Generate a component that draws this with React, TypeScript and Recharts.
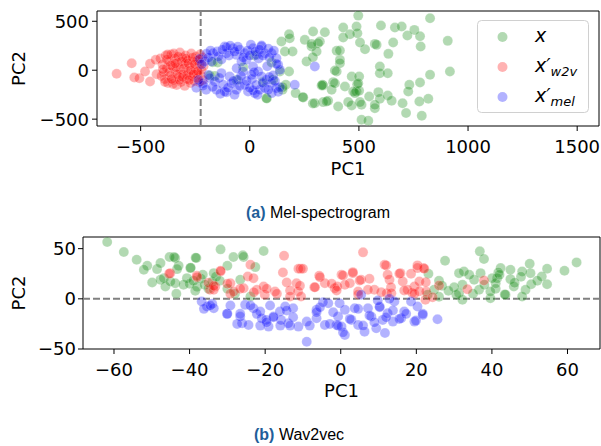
import { ScatterChart, Scatter, XAxis, YAxis, ReferenceLine, ReferenceArea, Label } from 'recharts';

// (a) Mel-spectrogram: PC1 / PC2 projections
const melX: number[][] = [
  [497, 558], [826, 531], [344, 388], [428, 436], [489, 446], [493, 377], [459, 367], [428, 334], [601, 456],
  [665, 436], [696, 446], [722, 354], [754, 412], [780, 347], [783, 242], [907, 300], [657, 283], [635, 167],
  [573, 269], [581, 259], [528, 214], [505, 283], [321, 293], [398, 198], [413, 106], [413, 71], [398, -13],
  [596, 38], [596, -31], [632, -31], [826, -47], [917, -13], [336, -156], [382, -122], [375, -200], [436, -166],
  [467, -64], [501, -64], [492, -143], [489, -217], [474, -217], [547, -268], [589, -224], [596, -292],
  [632, -258], [650, -312], [700, -337], [731, -149], [726, -217], [780, -125], [818, -292], [777, -319],
  [716, -438], [788, -465], [512, -506], [543, -516], [573, -388], [573, -353], [512, -353], [467, -360],
  [451, -326], [359, -312], [336, -326], [405, -370], [501, -210], [180, 367], [183, 326], [145, 293],
  [161, 191], [196, 191], [290, 395], [252, 310], [283, 242], [313, 275], [306, 191], [260, 89], [138, -13],
  [180, -13], [107, -98], [165, -149], [150, -200], [210, -234], [245, -278], [76, -285], [298, -337],
  [333, -149], [352, -319], [-170, 82], [-160, -60], [78, -289], [151, -173], [283, 269], [289, 133],
  [243, -275], [289, -340], [329, -156], [413, 201], [390, -3], [390, -133], [505, -326], [482, -234],
  [497, -133], [-147, 79], [-183, -54], [-60, -100], [20, 150], [60, -120], [100, 80], [-30, 30],
];
const melW2v: number[][] = [
  [-610, -37], [-541, 71], [-529, -74], [-506, -82], [-480, -13], [-457, 65], [-457, -115], [-431, 106],
  [-427, -41], [-410, 120], [-400, 60], [-395, -20], [-390, -90], [-385, 150], [-380, 20], [-375, -130],
  [-370, 90], [-365, -60], [-360, 160], [-355, 40], [-350, -100], [-345, 120], [-340, -10], [-335, -150],
  [-330, 80], [-325, -70], [-320, 180], [-318, 10], [-315, -120], [-310, 130], [-305, -40], [-300, 60],
  [-298, -160], [-295, 150], [-290, -90], [-285, 100], [-280, -20], [-275, 40], [-272, -130], [-268, 170],
  [-265, -60], [-260, 90], [-255, -110], [-250, 20], [-248, 140], [-245, -30], [-240, -80], [-235, 110],
  [-230, 60], [-225, -50], [-222, 0], [-218, 130], [-215, -100], [-212, 40], [-380, 110], [-370, -20],
  [-362, 50], [-352, -140], [-348, 170], [-338, 30], [-332, -40], [-328, 140], [-322, -100], [-312, 90],
  [-308, -70], [-302, 20], [-292, 120], [-288, -50], [-282, 70], [-278, -100], [-270, 0], [-262, 130],
  [-258, -40], [-252, 60], [-242, 100], [-238, -10], [-232, -120], [-228, 160], [-405, -60], [-398, 10],
  [-388, -120], [-376, 160], [-358, -90], [-342, 70],
];
const melMel: number[][] = [
  [-206, 89], [-168, 174], [-145, 140], [-115, 242], [-107, 174], [-77, 225], [-61, 157], [-46, 208],
  [-23, 174], [-15, 106], [-38, 89], [15, 225], [31, 157], [54, 242], [69, 174], [100, 174], [122, 122],
  [130, 55], [138, 4], [15, 38], [38, -13], [54, -64], [76, -98], [100, -133], [8, -47], [-214, -133],
  [-183, -81], [-160, -115], [-153, -200], [-122, -149], [-115, -217], [-92, -64], [-84, -133], [-61, -200],
  [-54, -98], [-31, -13], [-23, -149], [-8, -217], [23, -234], [46, -200], [69, -183], [100, -234],
  [122, -183], [206, -149], [298, 38], [-245, -180], [-229, 116], [-199, 167], [-107, 235], [54, 252],
  [122, 65], [107, -54], [138, -173], [15, -207], [-107, -224], [-214, -156], [-190, 130], [-180, 200],
  [-150, 190], [-130, 110], [-125, 210], [-95, 150], [-90, 250], [-70, 190], [-55, 240], [-30, 130],
  [-10, 200], [0, 150], [5, 260], [25, 190], [40, 120], [45, 210], [60, 150], [85, 220], [90, 130],
  [110, 200], [-220, 60], [-175, 90], [-235, -100], [-200, -200], [-190, -50], [-170, -170], [-140, -80],
  [-135, -240], [-100, -180], [-75, -110], [-70, -250], [-45, -160], [-40, -60], [-15, -110], [0, -180],
  [10, -90], [30, -150], [35, -250], [60, -130], [85, -200], [90, -70], [115, -110], [130, -220],
  [-130, -30], [-60, 20], [20, -20], [80, 40],
];

// (b) Wav2vec
const w2vX: number[][] = [
  [-61.8, 56.6], [-57.4, 46.6], [-54, 39], [-51.2, 33], [-52.1, 29], [-48.6, 29.6], [-47.7, 35.6], [-45.3, 41.6],
  [-43.8, 40.6], [-42.9, 33], [-43.3, 29.6], [-38.2, 40.6], [-39.8, 30.6], [-49.9, 16.3], [-47.7, 19],
  [-46.4, 12.3], [-46.8, 20.6], [-45.1, 17.3], [-43.8, 15.6], [-43.5, 5], [-41.6, 14], [-40.7, 20.6], [-40, 15],
  [-39, 18], [-38, 12], [-37, 20], [-36, 14], [-35, 10], [-34, 17], [-33, 22], [-38.5, 8], [-36.5, 24],
  [-31.8, 49.3], [-20.4, 47.6], [-28.4, 41.6], [-30, 33], [-25.7, 41.6], [-22.6, 31.6], [-38.4, 41], [-39.7, 31],
  [-44.1, 41.6], [-25.9, 43.3], [-33.6, 25.6], [-32, 18], [-26.6, 19], [-23.9, 2.3], [-30, 10], [-28, 5],
  [36.8, 47.3], [37.9, 39.6], [62.4, 36.3], [59.2, 28], [54.6, 30], [53.2, 22.3], [54.6, 14.6], [50, 35],
  [50.2, 25.6], [50.4, 14.6], [48.9, 9], [48, 27.3], [47.7, 22], [44.9, 29], [44.9, 19.6], [45.8, 12.3],
  [43.6, 4], [42.3, 30.6], [41.7, 26.3], [41.4, 20.6], [41, 15.6], [41, 10], [40.1, 20.6], [39.6, 0.6],
  [39.6, 7.3], [37, 25.6], [36.6, 9], [35.3, 19], [34, 24], [32.6, 27.3], [31.3, 25.6], [32.2, 14], [32.2, -1],
  [43.4, 4.4], [48, 2.3], [31.3, 5.6], [27.6, 38], [23.2, 25], [26, 18], [26.8, 13], [24.7, 9], [30, 11.6],
  [23, 4], [26, 2], [30.6, 4], [28.5, 8], [52, 18], [46, 16], [42, 24], [38, 14], [35, 5],
];
const w2vW2v: number[][] = [
  [-45.1, 25.6], [-38.1, 23], [-34.6, 9], [-35, 16], [-31.8, 27.3], [-33.2, 12.3], [-33.6, 9], [-29.2, 15.6],
  [-28.3, 7.3], [-23.9, 34], [-24.6, 22.3], [-23.1, 20.6], [-25.7, 10.6], [-22.2, 9], [-20.4, 12.3], [-20.1, 4],
  [-15, 43], [-15.3, 26.3], [-10.6, 30], [-14.3, 16.3], [-11.7, 15.6], [-13.4, 8.3], [-11.3, 7.3], [-17.4, 7.3],
  [-13.4, 2.3], [-10.5, 2.3], [-7, 11.6], [-5.7, 23], [-4.2, 15.6], [-1.6, 10.6], [5.9, 46.3], [11.6, 34],
  [15.8, 25.6], [18.6, 25], [20.3, 30.6], [21.9, 30.6], [16.4, 17.3], [19.5, 12.3], [20.8, 17.3], [17.7, 9],
  [20.8, 7.6], [18.9, 6], [12.9, 19], [12.4, 24], [13.3, 11.6], [12.2, 5.6], [13.4, 5.6], [8.9, 9], [7.2, 9],
  [5.4, 19], [3.2, 25.6], [2.4, 15.6], [1.1, 14], [0.2, 24], [-0.9, 12.3], [4.6, 7.3], [4.6, 4.3], [22.6, 7.3],
  [22.4, -1], [37.9, 18.3], [24.3, 1.6], [26, 13.3], [33.5, 9.6], [-31.8, 28], [-45.4, 25], [-38, 21.6],
  [-33.6, 13], [-30, 15], [-29.2, 5], [-26.6, 10], [-23, 6.6], [-19.6, 10], [-16.9, 5], [-11.2, 30], [-10, 30],
  [-5.5, 21.6], [0.6, 23.3], [3.2, 26.6], [5, 18.3], [7.6, 20], [12, 33.3], [15.5, 25], [20.3, 33.3],
  [22.1, 30], [22.5, 16.6], [-6.8, 11.6], [-2.4, 15], [-1.1, 8.3], [10.7, 6.6], [16.8, 8.3], [19.5, 5], [-10.8, 13],
];
const w2vMel: number[][] = [
  [-36.8, -2.7], [-35.4, -7.7], [-34, -5], [-33.6, -9.4], [-30.1, -15], [-26.1, -24.4], [-26.6, -17.7], [-25.3, -6],
  [-24.4, -26], [-23.1, -9.4], [-21.3, -12.7], [-20.9, -19.4], [-19.1, -27.7], [-19.7, -21], [-17.8, -17.7],
  [-16.1, -12.7], [-15.8, -21], [-14.7, -7.7], [-12.6, -9.4], [-13.9, -24.4], [-11.2, -27.7], [-9, -22.7],
  [-9, -42.7], [-6.4, -11], [-6.4, -19.4], [-4.2, -26], [-3.3, -4.4], [-1.1, -26], [-0.3, -4.4], [1.1, -11],
  [-0.7, -17.7], [0.2, -27.7], [1.1, -36], [2.8, -21], [3.7, -9.4], [5.4, 4], [4.6, -26], [6.3, -32.7],
  [7.2, -9.4], [8.1, -17.7], [9.4, -29.4], [10.3, -7.7], [11.1, -21], [12.4, -14.4], [13.8, -22.7], [14.2, -2.7],
  [16, -19.4], [16.8, -12.7], [18.6, -2.7], [19.5, -22.7], [20.3, -7.7], [21.7, -16], [25.6, -20.4], [11.7, -34],
  [-36.2, -10], [-34.5, -6.7], [-30, -15], [-27.4, -25], [-29.2, -6.7], [-26.6, -15], [-23.9, -6.7], [-22.2, -15],
  [-21.3, -26.7], [-18.7, -6.7], [-17.8, -18.4], [-16, -26.7], [-14.3, -11.7], [-12.6, -18.4], [-13.4, -26.7],
  [-19.6, -23.4], [-4.7, -3.4], [-6.4, -13.4], [-8.2, -26.7], [-2.9, -25], [-2, -13.4], [0.6, -33.4], [2.4, -20],
  [4.6, -10], [5.9, -26.7], [7.6, -16.7], [8.9, -23.4], [10.3, -8.4], [12, -18.4], [13.8, -11.7], [15.5, -20],
  [17.3, -15], [19.9, -21.7], [21.7, -15], [12.9, 0], [9.8, -1.7], [-0.7, -26.7], [-5.5, -8.4],
];

const melXTicks = [-500, 0, 500, 1000, 1500];
const melYTicks = [-500, 0, 500];
const w2vXTicks = [-60, -40, -20, 0, 20, 40, 60];
const w2vYTicks = [-50, 0, 50];

const GREEN = '#008000';
const RED = '#ff0000';
const BLUE = '#0000ff';

const toPts = (arr: number[][]) => arr.map(([x, y]) => ({ x, y }));
const fmt = (v: number) => (v < 0 ? '\u2212' + Math.abs(v) : String(v));

const dot = (fill: string) => (props: any) => (
  <circle cx={props.cx} cy={props.cy} r={5} fill={fill} fillOpacity={0.3} stroke="#fff" strokeOpacity={0.3} strokeWidth={0.6} />
);

const tickStyle = { fill: '#000', fontSize: 18 };
const font = 'DejaVu Sans, sans-serif';

function Panel(props: {
  width: number; height: number; top: number; right: number; yw: number; xh: number;
  xDom: number[]; yDom: number[]; xTicks: number[]; yTicks: number[];
  green: number[][]; red: number[][]; blue: number[][];
  refX?: number; refY?: number; labelOffset: number; yTickMargin: number;
}) {
  const { xDom, yDom } = props;
  return (
    <ScatterChart width={props.width} height={props.height}
      margin={{ top: props.top, right: props.right, bottom: 0, left: 0 }}
      style={{ fontFamily: font }}>
      <XAxis type="number" dataKey="x" domain={xDom} ticks={props.xTicks} allowDataOverflow
        height={props.xh} tick={tickStyle} tickFormatter={fmt} tickSize={5} tickMargin={9}
        axisLine={false} tickLine={{ stroke: '#000' }}>
        <Label value="PC1" position="insideBottom" offset={props.labelOffset} fill="#000" fontSize={18} />
      </XAxis>
      <YAxis type="number" dataKey="y" domain={yDom} ticks={props.yTicks} allowDataOverflow
        width={props.yw} tick={tickStyle} tickFormatter={fmt} tickSize={5} tickMargin={props.yTickMargin}
        axisLine={false} tickLine={{ stroke: '#000' }}>
        <Label value="PC2" angle={-90} position="insideLeft" offset={19} fill="#000" fontSize={18}
          style={{ textAnchor: 'middle' }} />
      </YAxis>
      <Scatter data={toPts(props.green)} shape={dot(GREEN)} isAnimationActive={false} />
      <Scatter data={toPts(props.red)} shape={dot(RED)} isAnimationActive={false} />
      <Scatter data={toPts(props.blue)} shape={dot(BLUE)} isAnimationActive={false} />
      {props.refX !== undefined && (
        <ReferenceLine x={props.refX} stroke="#808080" strokeWidth={2} strokeDasharray="7 3" />
      )}
      {props.refY !== undefined && (
        <ReferenceLine y={props.refY} stroke="#808080" strokeWidth={2} strokeDasharray="7 3" />
      )}
      <ReferenceArea x1={xDom[0]} x2={xDom[1]} y1={yDom[0]} y2={yDom[1]}
        fill="none" fillOpacity={0} stroke="#000" strokeWidth={1} />
    </ScatterChart>
  );
}

function Legend() {
  const items = [
    { c: GREEN, y: 37, main: 'x', sub: '' },
    { c: RED, y: 67, main: 'x\u2032', sub: 'w2v' },
    { c: BLUE, y: 97, main: 'x\u2032', sub: 'mel' },
  ];
  return (
    <svg width={601} height={446} style={{ position: 'absolute', left: 0, top: 0, pointerEvents: 'none' }}>
      <rect x={477.5} y={20.5} width={111} height={92} rx={4} fill="#fff" fillOpacity={0.8} stroke="#d0d0d0" />
      {items.map((it) => (
        <g key={it.sub || 'x'}>
          <circle cx={502.5} cy={it.y} r={5} fill={it.c} fillOpacity={0.3} />
          <text x={535} y={it.y + 5} fontFamily={font} fontStyle="italic" fontSize={19} fill="#000">
            {it.main}
            {it.sub && <tspan dy={4} fontSize={13}>{it.sub}</tspan>}
          </text>
        </g>
      ))}
    </svg>
  );
}

const capStyle = {
  position: 'absolute' as const, fontFamily: 'Liberation Sans, Arial, sans-serif', fontSize: 16,
  lineHeight: '18px', color: '#000', whiteSpace: 'nowrap' as const,
};

export default function App() {
  return (
    <div style={{ position: 'absolute', left: 0, top: 0, width: 601, height: 446, background: '#fff', overflow: 'hidden' }}>
      <div style={{ position: 'absolute', left: 0, top: 0 }}>
        <Panel width={601} height={180} top={11} right={2} yw={97} xh={54}
          xDom={[-700, 1600]} yDom={[-570, 605]} xTicks={melXTicks} yTicks={melYTicks}
          green={melX} red={melW2v} blue={melMel} refX={-225} labelOffset={5} yTickMargin={3} />
      </div>
      <div style={{ position: 'absolute', left: 0, top: 226 }}>
        <Panel width={601} height={175} top={11} right={1} yw={83} xh={52}
          xDom={[-68.2, 68.6]} yDom={[-50, 61.6]} xTicks={w2vXTicks} yTicks={w2vYTicks}
          green={w2vX} red={w2vW2v} blue={w2vMel} refY={0} labelOffset={4} yTickMargin={2} />
      </div>
      <Legend />
      <div style={{ ...capStyle, left: 246, top: 204 }}>
        <b style={{ color: '#1f5e99' }}>(a)</b> Mel-spectrogram
      </div>
      <div style={{ ...capStyle, left: 254, top: 426 }}>
        <b style={{ color: '#1f5e99' }}>(b)</b> Wav2vec
      </div>
    </div>
  );
}
